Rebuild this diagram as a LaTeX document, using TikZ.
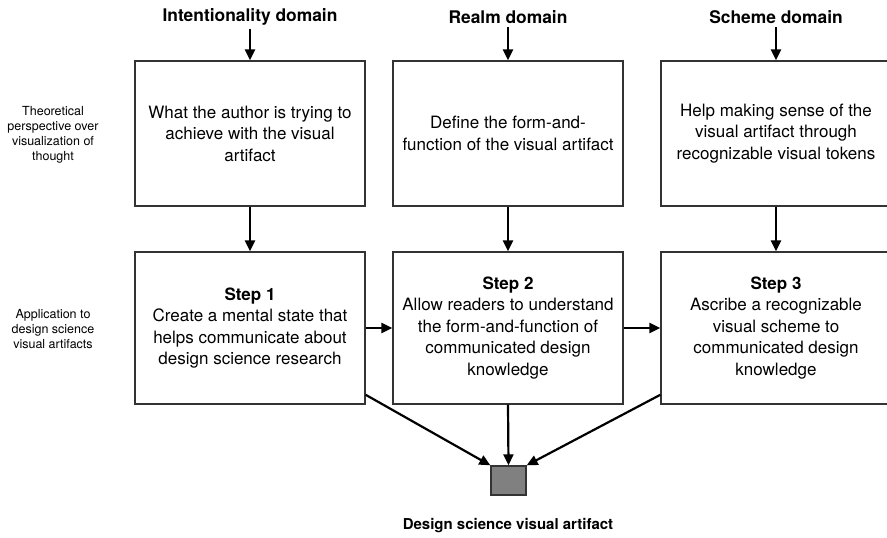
\documentclass[tikz,border=0pt]{standalone}
\usepackage{fontspec}
\setmainfont{TeX Gyre Heros}
\usetikzlibrary{arrows.meta}
\tikzset{
  box/.style={draw=black!80, line width=1.3pt, minimum width=230pt, inner sep=0pt,
    align=center, font=\fontsize{17}{21.5}\selectfont},
  head/.style={font=\bfseries\fontsize{17.4}{20}\selectfont, inner sep=3pt},
  side/.style={align=center, font=\fontsize{12.5}{15}\selectfont},
  arr/.style={line width=2.2pt, -{Triangle[length=11pt,width=10pt]}}
}

\begin{document}
\begin{tikzpicture}[x=1pt,y=-1pt]
                \useasboundingbox (0,0) rectangle (887,538);
                \clip (0,0) rectangle (887,538);

                %row labels on the left
                \node[side] (lt) at (53,135) {Theoretical\\perspective over\\visualization of\\thought};
                \node[side] (lb) at (53,329) {Application to\\design science\\visual artifacts};

                %domain headers
                \node[head] (h1) at (250,17) {Intentionality domain};
                \node[head] (h2) at (508,17) {Realm domain};
                \node[head] (h3) at (776,17) {Scheme domain};

                %top row
                \node[box, minimum height=145pt] (t1) at (250,133.5)
                    {What the author is trying to\\achieve with the visual\\artifact};
                \node[box, minimum height=145pt] (t2) at (508,133.5)
                    {Define the form-and-\\function of the visual artifact};
                \node[box, minimum height=145pt] (t3) at (776,133.5)
                    {Help making sense of the\\visual artifact through\\recognizable visual tokens};

                %bottom row
                \node[box, minimum height=152pt] (s1) at (250,328)
                    {\textbf{Step 1}\\Create a mental state that\\helps communicate about\\design science research};
                \node[box, minimum height=152pt] (s2) at (508,328)
                    {\textbf{Step 2}\\Allow readers to understand\\the form-and-function of\\communicated design\\knowledge};
                \node[box, minimum height=152pt] (s3) at (776,328)
                    {\textbf{Step 3}\\Ascribe a recognizable\\visual scheme to\\communicated design\\knowledge};

                %artifact
                \node[draw=black!80, line width=1.3pt, fill=black!50, minimum width=35pt,
                    minimum height=29pt, inner sep=0pt] (art) at (508.5,480.5) {};
                \node[head, font=\bfseries\fontsize{15}{18}\selectfont] (al) at (508,526)
                    {Design science visual artifact};

                %arrows
                \foreach \i in {1,2,3} {
                    \draw[arr] (h\i.south) -- (t\i.north);
                    \draw[arr] (t\i.south) -- (s\i.north);
                }
                \draw[arr] (s1.east) -- (s2.west);
                \draw[arr] (s2.east) -- (s3.west);
                \draw[arr] (s1.-30) -- (art.north west);
                \draw[arr] (s2.south) -- (art.north);
                \draw[arr] (s3.210) -- (art.north east);
\end{tikzpicture}
\end{document}
